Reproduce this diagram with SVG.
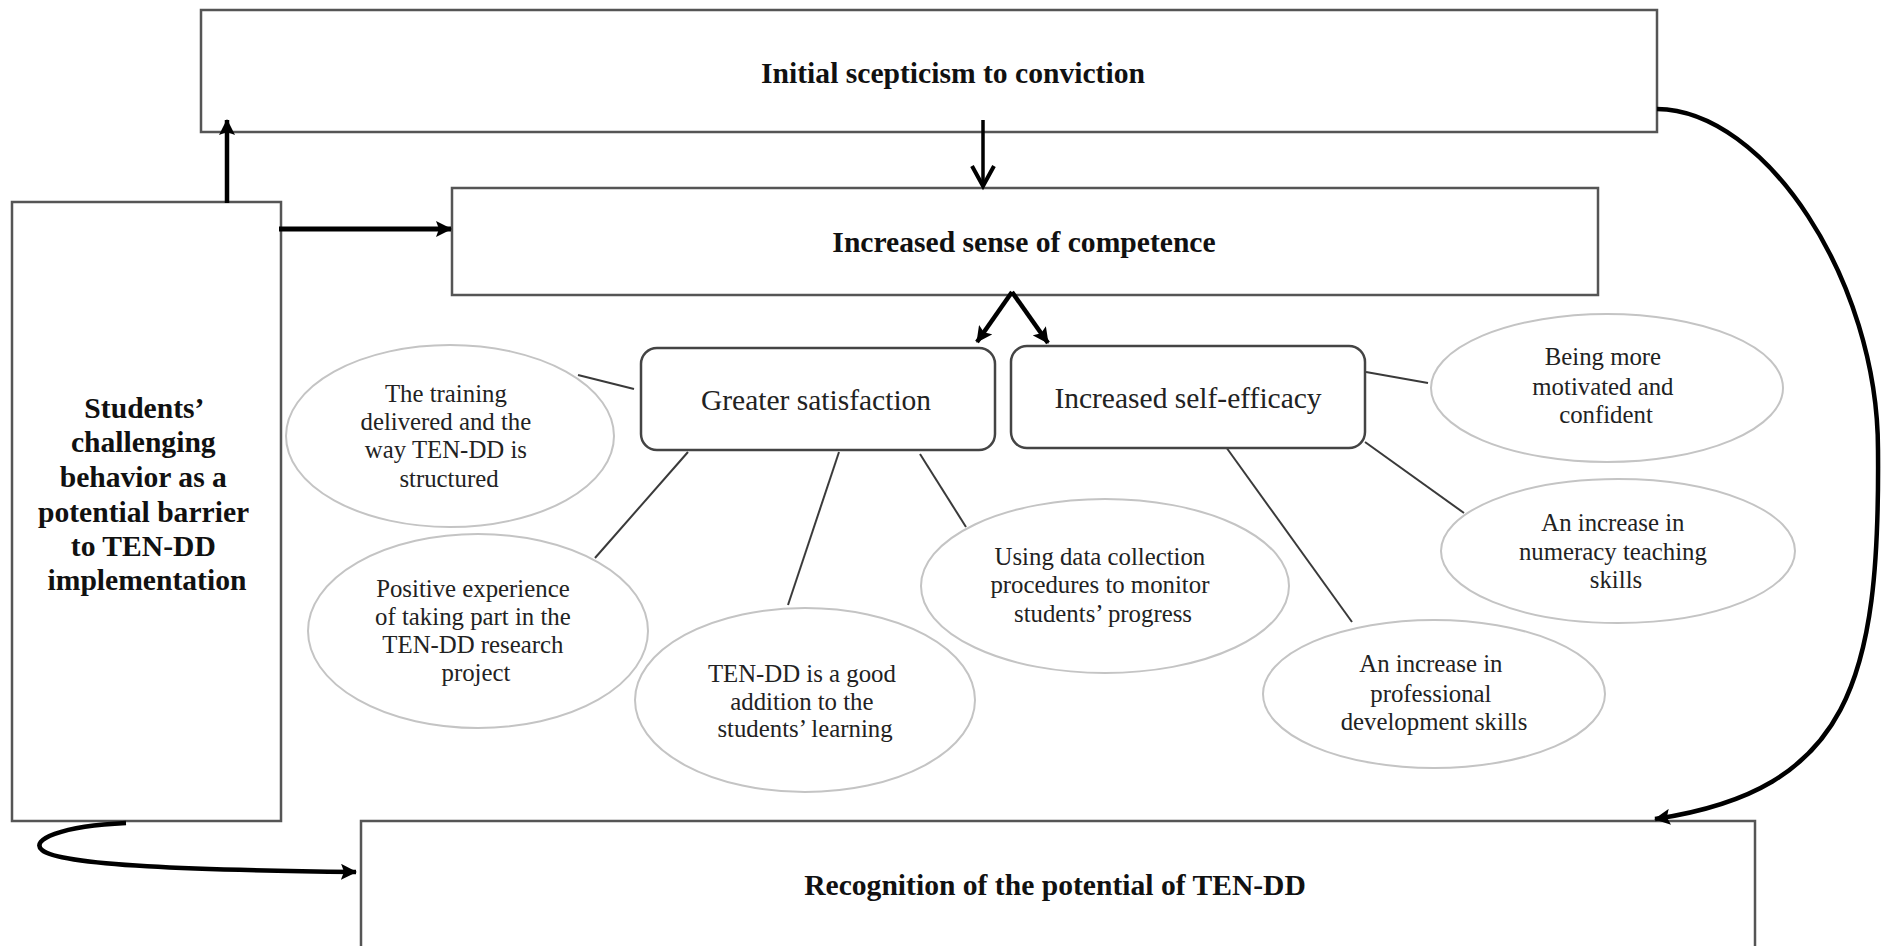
<svg xmlns="http://www.w3.org/2000/svg" width="1885" height="946" viewBox="0 0 1885 946">
<defs>
<style>
.box{fill:#fff;stroke:#555;stroke-width:2.5}
.rbox{fill:#fff;stroke:#444;stroke-width:2.5}
.ell{fill:#fff;stroke:#c4c4c4;stroke-width:2}
.hdr{font-family:"Liberation Serif","Times New Roman",serif;font-weight:bold;font-size:29.6px;fill:#111;text-anchor:middle}
.lbl{font-family:"Liberation Serif","Times New Roman",serif;font-size:29.5px;fill:#222;text-anchor:middle}
.sm{font-family:"Liberation Serif","Times New Roman",serif;font-size:24.8px;fill:#222;text-anchor:middle}
.thin{stroke:#3a3a3a;stroke-width:2;fill:none}
.thick{stroke:#000;stroke-width:4.5;fill:none}
</style>
<marker id="ah" markerUnits="userSpaceOnUse" viewBox="0 0 16 16" refX="15" refY="8" markerWidth="16" markerHeight="16" orient="auto">
<path d="M0,0 L16,8 L0,16 L3,8 Z" fill="#000"/>
</marker>
</defs>

<g id="node-scepticism">
<rect class="box" x="201" y="10" width="1456" height="122"/>
<text class="hdr" x="953" y="83">Initial scepticism to conviction</text>
</g>

<g id="node-competence">
<rect class="box" x="452" y="188" width="1146" height="107"/>
<text class="hdr" x="1024" y="252">Increased sense of competence</text>
</g>

<g id="node-students">
<rect class="box" x="12" y="202" width="269" height="619"/>
<text class="hdr">
<tspan x="147" y="418">Students’</tspan>
<tspan x="147" y="452">challenging</tspan>
<tspan x="147" y="487">behavior as a</tspan>
<tspan x="147" y="522">potential barrier</tspan>
<tspan x="147" y="556">to TEN-DD</tspan>
<tspan x="147" y="590">implementation</tspan>
</text>
</g>

<g id="node-recognition">
<rect class="box" x="361" y="821" width="1394" height="140"/>
<text class="hdr" x="1055" y="895">Recognition of the potential of TEN-DD</text>
</g>

<g id="connectors">
<line class="thin" x1="578" y1="375" x2="634" y2="389"/>
<line class="thin" x1="688" y1="452" x2="595" y2="558"/>
<line class="thin" x1="839" y1="452" x2="788" y2="605"/>
<line class="thin" x1="920" y1="454" x2="966" y2="527"/>
<line class="thin" x1="1366" y1="372" x2="1428" y2="383"/>
<line class="thin" x1="1365" y1="442" x2="1464" y2="513"/>
<line class="thin" x1="1226" y1="447" x2="1352" y2="622"/>

<line class="thick" x1="227" y1="203" x2="227" y2="120" marker-end="url(#ah)"/>
<line class="thick" x1="279" y1="229" x2="451" y2="229" marker-end="url(#ah)" style="stroke-width:5"/>
<line x1="983" y1="120" x2="983" y2="186" stroke="#000" stroke-width="3.5"/>
<polyline points="972,166 983,186 994,166" fill="none" stroke="#000" stroke-width="4"/>
<line class="thick" x1="1012" y1="292" x2="977" y2="342" marker-end="url(#ah)"/>
<line class="thick" x1="1012" y1="292" x2="1048" y2="343" marker-end="url(#ah)"/>
<path class="thick" d="M1657,109 C1765,110 1878,280 1878,450 C1880,680 1850,790 1655,819" marker-end="url(#ah)"/>
<path class="thick" d="M126,823 C60,826 30,840 42,850 C60,866 200,870 356,872" marker-end="url(#ah)"/>
</g>

<g id="node-satisfaction">
<rect class="rbox" x="641" y="348" width="354" height="102" rx="16"/>
<text class="lbl" x="816" y="410">Greater satisfaction</text>
</g>

<g id="node-selfefficacy">
<rect class="rbox" x="1011" y="346" width="354" height="102" rx="16"/>
<text class="lbl" x="1188" y="408">Increased self-efficacy</text>
</g>

<g id="node-training">
<ellipse class="ell" cx="450" cy="436" rx="164" ry="91"/>
<text class="sm">
<tspan x="449" y="402">The training</tspan>
<tspan x="449" y="430">delivered and the</tspan>
<tspan x="449" y="458">way TEN-DD is</tspan>
<tspan x="449" y="487">structured</tspan>
</text>
</g>

<g id="node-positive">
<ellipse class="ell" cx="478" cy="631" rx="170" ry="97"/>
<text class="sm">
<tspan x="476" y="597">Positive experience</tspan>
<tspan x="476" y="625">of taking part in the</tspan>
<tspan x="476" y="653">TEN-DD research</tspan>
<tspan x="476" y="681">project</tspan>
</text>
</g>

<g id="node-addition">
<ellipse class="ell" cx="805" cy="700" rx="170" ry="92"/>
<text class="sm">
<tspan x="805" y="682">TEN-DD is a good</tspan>
<tspan x="805" y="710">addition to the</tspan>
<tspan x="805" y="737">students’ learning</tspan>
</text>
</g>

<g id="node-datacollection">
<ellipse class="ell" cx="1105" cy="586" rx="184" ry="87"/>
<text class="sm">
<tspan x="1103" y="565">Using data collection</tspan>
<tspan x="1103" y="593">procedures to monitor</tspan>
<tspan x="1103" y="622">students’ progress</tspan>
</text>
</g>

<g id="node-motivated">
<ellipse class="ell" cx="1607" cy="388" rx="176" ry="74"/>
<text class="sm">
<tspan x="1606" y="365">Being more</tspan>
<tspan x="1606" y="395">motivated and</tspan>
<tspan x="1606" y="423">confident</tspan>
</text>
</g>

<g id="node-numeracy">
<ellipse class="ell" cx="1618" cy="551" rx="177" ry="72"/>
<text class="sm">
<tspan x="1616" y="531">An increase in</tspan>
<tspan x="1616" y="560">numeracy teaching</tspan>
<tspan x="1616" y="588">skills</tspan>
</text>
</g>

<g id="node-professional">
<ellipse class="ell" cx="1434" cy="694" rx="171" ry="74"/>
<text class="sm">
<tspan x="1434" y="672">An increase in</tspan>
<tspan x="1434" y="702">professional</tspan>
<tspan x="1434" y="730">development skills</tspan>
</text>
</g>
</svg>
